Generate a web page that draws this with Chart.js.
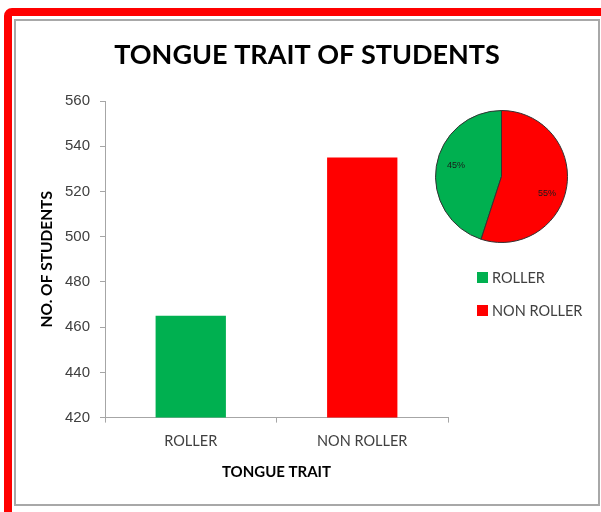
<!DOCTYPE html>
<html>
<head>
<meta charset="utf-8">
<script src="https://cdn.jsdelivr.net/npm/chart.js@4.4.1/dist/chart.umd.min.js"></script>
<style>
  html, body { margin:0; padding:0; background:#ffffff; width:601px; height:512px; overflow:hidden; position:relative; }
  #frame { position:absolute; left:4px; top:8px; width:660px; height:580px; border:8px solid #ff0000; border-radius:8px; box-sizing:border-box; }
  #panel { position:absolute; left:14px; top:19px; width:586px; height:487px; border:2px solid #a8a8a8; box-sizing:border-box; background:#ffffff; }
  #bar { position:absolute; left:16px; top:21px; }
  #pie { position:absolute; left:435px; top:110px; }
  .leg { position:absolute; left:477px; height:20px; display:flex; align-items:center; white-space:nowrap;
         font-family:Lato, "Liberation Sans", sans-serif; font-size:14.5px; color:#404040; }
  .sw { width:11px; height:11px; margin-right:4px; flex:none; }
</style>
</head>
<body>
<div id="frame"></div>
<div id="panel"></div>
<canvas id="bar" width="582" height="483"></canvas>
<canvas id="pie" width="133" height="133"></canvas>
<div id="legend"></div>
<script>
// ---- data ----
const categories = ['ROLLER', 'NON ROLLER'];
const studentCounts = [465, 535];
const pieShares = [45, 55];          // percentages shown on the pie
const yTickLabels = [420, 440, 460, 480, 500, 520, 540, 560];
const seriesColors = ['#00b050', '#ff0000'];
const chartTitle = 'TONGUE TRAIT OF STUDENTS';
const xTitle = 'TONGUE TRAIT';
const yTitle = 'NO. OF STUDENTS';

const F = 'Lato, "Liberation Sans", sans-serif';
const axisGray = '#a6a6a6';

new Chart(document.getElementById('bar'), {
  type: 'bar',
  data: {
    labels: categories,
    datasets: [{
      data: studentCounts,
      backgroundColor: seriesColors,
      borderWidth: 0,
      categoryPercentage: 1,
      barPercentage: 0.41
    }]
  },
  options: {
    responsive: false,
    animation: false,
    layout: { padding: { left: 0, right: 0, top: 0, bottom: 17.8 } },
    plugins: {
      legend: { display: false },
      tooltip: { enabled: false },
      title: {
        display: true,
        text: chartTitle,
        color: '#000000',
        font: { family: F, size: 27, weight: 'bold' },
        padding: { top: 18.2, bottom: 29.4 }
      }
    },
    scales: {
      x: {
        grid: { drawOnChartArea: false, drawTicks: true, tickLength: 5, color: axisGray, offset: true },
        border: { color: axisGray, width: 1 },
        ticks: { font: { family: F, size: 14.5 }, color: '#404040', padding: 10 },
        title: { display: true, text: xTitle, color: '#000000',
                 font: { family: F, size: 15, weight: 'bold' }, padding: { top: 3.2, bottom: 5 } }
      },
      y: {
        min: yTickLabels[0],
        max: yTickLabels[yTickLabels.length - 1],
        afterBuildTicks: (s) => { s.ticks = yTickLabels.map(v => ({ value: v })); },
        grid: { drawOnChartArea: false, drawTicks: true, tickLength: 5, color: axisGray },
        border: { color: axisGray, width: 1 },
        ticks: { font: { family: '"Liberation Sans", sans-serif', size: 15 }, color: '#404040', padding: 10 },
        title: { display: true, text: yTitle, color: '#000000',
                 font: { family: F, size: 15.5, weight: 'bold' }, padding: { top: 21.7, bottom: 0 } },
        afterFit: (s) => { s.width = 89; }
      },
      spacer: {
        type: 'linear',
        position: 'right',
        display: true,
        grid: { display: false },
        border: { display: false },
        ticks: { display: false },
        afterFit: (s) => { s.width = 150; }
      }
    }
  }
});

const pieLabelPlugin = {
  id: 'pieLabels',
  afterDatasetsDraw(chart) {
    const ctx = chart.ctx;
    const meta = chart.getDatasetMeta(0);
    ctx.save();
    ctx.font = '9px "Liberation Sans", sans-serif';
    ctx.fillStyle = '#1a1a1a';
    ctx.textAlign = 'center';
    ctx.textBaseline = 'middle';
    meta.data.forEach((arc, i) => {
      const p = arc.getProps(['x', 'y', 'startAngle', 'endAngle', 'outerRadius'], true);
      const mid = (p.startAngle + p.endAngle) / 2 + 0.14;
      const r = p.outerRadius * 0.72;
      ctx.fillText(pieShares[i] + '%', p.x + Math.cos(mid) * r, p.y + Math.sin(mid) * r + 3);
    });
    ctx.restore();
  }
};

new Chart(document.getElementById('pie'), {
  type: 'pie',
  data: {
    labels: categories,
    datasets: [{
      data: pieShares,
      backgroundColor: seriesColors,
      borderColor: '#333333',
      borderWidth: 1
    }]
  },
  options: {
    responsive: false,
    animation: false,
    rotation: 198,
    layout: { padding: 0 },
    plugins: { legend: { display: false }, tooltip: { enabled: false } }
  },
  plugins: [pieLabelPlugin]
});

// legend (HTML text)
const legendTops = [267, 300];
const legendEl = document.getElementById('legend');
categories.forEach((c, i) => {
  const row = document.createElement('div');
  row.className = 'leg';
  row.style.top = legendTops[i] + 'px';
  const sw = document.createElement('span');
  sw.className = 'sw';
  sw.style.background = seriesColors[i];
  row.appendChild(sw);
  row.appendChild(document.createTextNode(c));
  legendEl.appendChild(row);
});
</script>
</body>
</html>
